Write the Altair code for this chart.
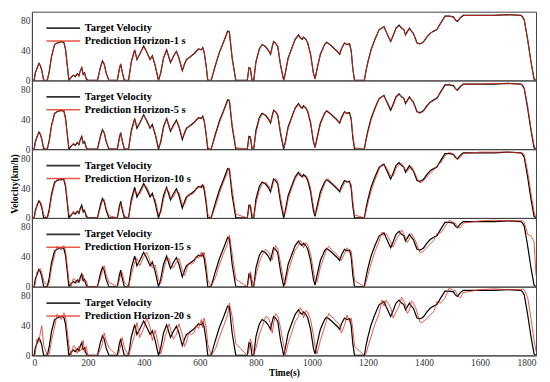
import altair as alt
import pandas as pd

FONT = "Liberation Serif"

time_s = [0, 8, 12, 18, 25, 30, 35, 42, 55, 62, 70, 81,
          90, 105, 114, 120, 132, 140, 148, 155, 162, 168, 172, 178,
          183, 188, 194, 200, 234, 245, 252, 258, 265, 275, 305, 312,
          317, 322, 330, 345, 355, 367, 375, 385, 399, 410, 422, 430,
          440, 452, 460, 470, 481, 490, 495, 505, 516, 525, 537, 545,
          552, 560, 570, 580, 587, 595, 605, 610, 615, 622, 628, 640,
          655, 670, 685, 699, 705, 715, 728, 769, 775, 780, 786, 792,
          800, 812, 822, 835, 845, 852, 858, 863, 870, 878, 888, 899,
          905, 915, 930, 940, 952, 958, 965, 970, 978, 985, 995, 1005,
          1011, 1018, 1030, 1045, 1052, 1060, 1070, 1081, 1090, 1099, 1105, 1116,
          1125, 1134, 1140, 1146, 1152, 1187, 1193, 1200, 1211, 1225, 1240, 1250,
          1257, 1265, 1281, 1290, 1300, 1311, 1320, 1328, 1334, 1340, 1348, 1355,
          1362, 1370, 1375, 1385, 1392, 1399, 1410, 1422, 1435, 1446, 1460, 1475,
          1490, 1505, 1512, 1519, 1530, 1540, 1600, 1650, 1700, 1746, 1752, 1758,
          1770, 1782, 1793, 1800]

target_kmh = [0, 0, 10, 16, 23, 20, 14, 0, 0, 12, 32, 48,
              50, 52, 51, 42, 0, 4, 7, 5, 9, 6, 12, 17,
              8, 10, 2, 0, 0, 18, 26, 22, 10, 0, 0, 15,
              22, 12, 0, 0, 25, 41, 28, 35, 46, 38, 28, 33,
              20, 0, 10, 30, 41, 30, 24, 32, 39, 30, 13, 22,
              28, 30, 33, 36, 39, 42, 41, 44, 38, 20, 0, 0,
              20, 38, 52, 66, 65, 30, 0, 0, 17, 16, 0, 0,
              25, 42, 48, 45, 40, 35, 45, 52, 50, 45, 20, 0,
              10, 30, 45, 55, 61, 57, 55, 58, 55, 50, 35, 10,
              2, 15, 35, 48, 51, 49, 46, 42, 39, 35, 42, 50,
              48, 49, 40, 15, 0, 0, 13, 25, 41, 55, 68, 70,
              72, 65, 52, 60, 70, 74, 70, 68, 61, 65, 70, 66,
              63, 55, 50, 49, 50, 52, 58, 63, 66, 68, 77, 86,
              86, 85, 81, 79, 84, 87, 87, 87, 88, 87, 85, 81,
              55, 25, 2, 0]

pred_h1 = [0, 0, 10, 16, 23, 20, 14, 0, 0, 12, 32, 48,
           50, 52, 51, 42, 0, 4, 7, 5, 9, 6, 12, 17,
           8, 10, 2, 0, 0, 18, 25, 22, 10, 0, 0, 15,
           22, 12, 0, 0, 25, 41, 28, 35, 45, 38, 28, 33,
           20, 0, 10, 30, 41, 30, 24, 32, 39, 30, 13, 22,
           28, 30, 33, 36, 39, 42, 41, 44, 38, 20, 0, 0,
           20, 38, 52, 65, 65, 30, 0, 0, 17, 16, 0, 0,
           25, 42, 48, 45, 40, 35, 45, 52, 50, 45, 20, 0,
           10, 30, 45, 55, 60, 57, 55, 58, 55, 50, 35, 10,
           2, 15, 35, 48, 51, 49, 46, 42, 39, 35, 42, 50,
           48, 49, 40, 15, 0, 0, 13, 25, 41, 55, 68, 70,
           72, 65, 52, 60, 70, 73, 70, 68, 61, 65, 70, 66,
           63, 55, 50, 49, 50, 52, 58, 63, 66, 68, 77, 86,
           86, 85, 81, 79, 84, 87, 87, 87, 88, 87, 85, 81,
           55, 25, 2, 0]

pred_h5 = [0, 0, 8, 17, 22, 21, 13, 2, 0, 10, 30, 47,
           51, 51, 52, 40, 2, 3, 8, 6, 8, 7, 11, 16,
           9, 9, 3, 0, 0, 16, 25, 23, 11, 1, 0, 13,
           21, 13, 1, 0, 23, 40, 30, 34, 45, 39, 29, 31,
           22, 2, 8, 28, 42, 31, 25, 30, 38, 31, 15, 20,
           27, 31, 32, 35, 40, 41, 42, 43, 40, 22, 2, 0,
           18, 36, 51, 64, 66, 33, 2, 0, 15, 17, 2, 0,
           22, 40, 47, 46, 41, 36, 43, 51, 51, 46, 23, 2,
           8, 28, 44, 54, 60, 58, 54, 57, 56, 51, 37, 12,
           3, 13, 33, 47, 52, 50, 45, 43, 38, 36, 40, 49,
           49, 48, 42, 18, 2, 0, 11, 23, 39, 54, 67, 71,
           71, 66, 54, 58, 69, 73, 71, 67, 62, 64, 69, 67,
           62, 56, 51, 48, 49, 51, 57, 62, 65, 69, 76, 85,
           87, 84, 82, 78, 83, 87, 87, 88, 88, 87, 86, 82,
           58, 28, 5, 0]

pred_h10 = [0, 0, 6, 18, 21, 22, 16, 4, 0, 8, 28, 45,
            52, 50, 53, 45, 4, 2, 9, 7, 7, 8, 10, 14,
            12, 8, 5, 0, 0, 14, 23, 25, 13, 3, 0, 11,
            19, 15, 3, 0, 20, 37, 33, 32, 43, 42, 31, 29,
            25, 5, 6, 25, 40, 34, 27, 28, 36, 34, 18, 18,
            25, 32, 31, 34, 40, 40, 44, 42, 43, 26, 5, 0,
            15, 33, 49, 61, 67, 38, 5, 0, 13, 18, 5, 0,
            19, 37, 45, 48, 43, 38, 40, 49, 53, 48, 27, 5,
            6, 25, 42, 52, 58, 60, 55, 55, 57, 53, 40, 16,
            5, 10, 30, 45, 52, 52, 47, 44, 40, 37, 38, 47,
            50, 47, 45, 22, 4, 0, 9, 20, 36, 51, 65, 72,
            70, 68, 56, 56, 67, 71, 73, 68, 64, 62, 67, 69,
            64, 58, 53, 47, 48, 50, 55, 60, 64, 70, 74, 83,
            88, 85, 83, 78, 81, 86, 88, 88, 88, 87, 87, 84,
            62, 33, 8, 0]

pred_h15 = [0, 0, 4, 20, 20, 24, 19, 8, 0, 5, 25, 42,
            54, 49, 55, 48, 8, 0, 11, 9, 5, 10, 8, 12,
            16, 6, 8, 0, 0, 12, 20, 28, 16, 6, 0, 8,
            17, 19, 6, 0, 16, 33, 38, 28, 40, 46, 34, 25,
            29, 9, 4, 21, 37, 38, 30, 25, 33, 38, 22, 15,
            22, 32, 30, 33, 41, 38, 46, 40, 46, 31, 9, 0,
            12, 30, 45, 58, 69, 44, 10, 0, 10, 20, 9, 0,
            15, 33, 42, 50, 46, 40, 36, 46, 55, 50, 31, 9,
            3, 21, 38, 49, 55, 62, 57, 52, 59, 56, 44, 22,
            8, 6, 26, 42, 50, 54, 49, 46, 42, 39, 35, 44,
            52, 46, 48, 28, 8, 0, 6, 16, 31, 47, 61, 73,
            68, 71, 60, 53, 63, 69, 76, 70, 66, 59, 64, 71,
            67, 61, 56, 46, 46, 48, 52, 57, 62, 71, 72, 80,
            89, 86, 85, 79, 79, 85, 88, 89, 88, 88, 88, 86,
            70, 68, 60, 15]

pred_h20 = [0, 0, 2, 22, 18, 30, 40, 14, 0, 2, 20, 38,
            55, 48, 57, 52, 14, 0, 13, 11, 3, 12, 6, 8,
            20, 4, 12, 0, 0, 8, 16, 30, 20, 10, 0, 5,
            14, 24, 10, 0, 12, 28, 44, 24, 36, 50, 38, 20,
            34, 14, 2, 16, 32, 42, 35, 22, 28, 42, 28, 12,
            18, 30, 28, 31, 40, 36, 48, 37, 50, 38, 15, 0,
            8, 25, 40, 54, 70, 52, 16, 0, 6, 22, 14, 0,
            10, 28, 38, 52, 50, 42, 30, 42, 56, 53, 36, 14,
            0, 16, 33, 45, 52, 64, 60, 50, 60, 58, 48, 28,
            12, 2, 20, 38, 47, 56, 52, 48, 44, 41, 30, 40,
            54, 45, 50, 35, 12, 0, 2, 12, 25, 42, 56, 74,
            66, 74, 64, 50, 58, 66, 78, 72, 68, 56, 60, 73,
            70, 64, 58, 45, 44, 46, 49, 54, 59, 72, 70, 77,
            90, 87, 87, 80, 77, 84, 88, 89, 88, 88, 89, 88,
            78, 50, 20, 5]

horizons = [1, 5, 10, 15, 20]
predictions = [pred_h1, pred_h5, pred_h10, pred_h15, pred_h20]
x_ticks = [0, 200, 400, 600, 800, 1000, 1200, 1400, 1600, 1800]
y_ticks = [0, 40, 80]

panels = []
for i, (h, pred) in enumerate(zip(horizons, predictions)):
    t_lab = "Target Velocity"
    p_lab = f"Prediction Horizon-{h} s"
    df_t = pd.DataFrame({"t": time_s, "v": target_kmh, "s": t_lab})
    df_p = pd.DataFrame({"t": time_s, "v": pred, "s": p_lab})

    if i == 4:
        xaxis = alt.Axis(values=x_ticks, title="Time(s)", format="d")
    else:
        xaxis = None
    yargs = dict(values=y_ticks)
    yargs["title"] = "Velocity(km/h)" if i == 2 else ""
    yaxis = alt.Axis(**yargs)

    cscale = alt.Scale(domain=[t_lab, p_lab], range=["#000000", "#e0301e"])
    legend = alt.Legend(title=None, orient="none", legendX=24, legendY=9,
                        labelFont=FONT, labelFontWeight="bold", labelFontSize=10.5,
                        labelColor="#000000", symbolType="M-2.6,0H2.6",
                        symbolSize=169, symbolStrokeWidth=1.6,
                        rowPadding=-1, padding=0, labelOffset=14)
    x_enc = alt.X("t:Q", scale=alt.Scale(domain=[0, 1800], nice=False), axis=xaxis)
    y_enc = alt.Y("v:Q", scale=alt.Scale(domain=[0, 92], nice=False), axis=yaxis)

    black = alt.Chart(df_t).mark_line(strokeWidth=1.2, clip=True).encode(
        x=x_enc, y=y_enc, color=alt.Color("s:N", scale=cscale, legend=legend))
    red = alt.Chart(df_p).mark_line(strokeWidth=1.0, opacity=0.8, clip=True).encode(
        x=x_enc, y=y_enc, color=alt.Color("s:N", scale=cscale, legend=legend))
    panels.append(alt.layer(black, red).properties(width=506, height=69))

chart = (
    alt.vconcat(*panels, spacing=0, bounds="flush")
    .resolve_scale(color="independent")
    .properties(padding={"left": 0, "top": 2, "right": 5, "bottom": 0})
    .configure_view(stroke="#444444", strokeWidth=1)
    .configure_axis(labelFont=FONT, labelFontSize=9.5, labelColor="#333333",
                    titleFont=FONT, titleFontSize=9.5, titleFontWeight="bold",
                    titleColor="#000000", grid=False, tickSize=0,
                    labelPadding=2, titlePadding=1, domainColor="#444444")
)

chart.save("out.html", embed_options={"renderer": "svg", "actions": False})
